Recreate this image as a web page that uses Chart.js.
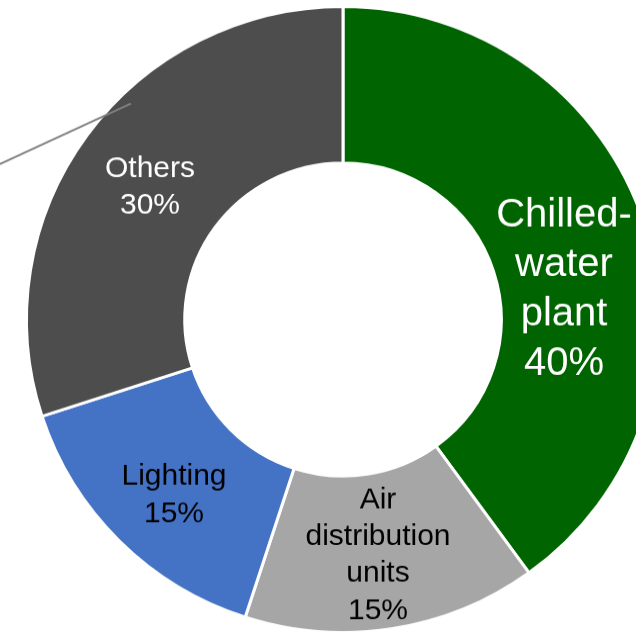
<!DOCTYPE html>
<html>
<head>
<meta charset="utf-8">
<script src="https://cdn.jsdelivr.net/npm/chart.js@4.4.1/dist/chart.umd.min.js"></script>
<style>
  html, body { margin: 0; padding: 0; background: #fff; overflow: hidden; }
  body { width: 636px; height: 636px; position: relative; }
  #wrap {
    position: absolute; left: -25px; top: 5px;
    width: 686px; height: 636px;
    transform: scaleY(0.989); transform-origin: 0 0;
  }
</style>
</head>
<body>
<div id="wrap"><canvas id="energyChart" width="686" height="636"></canvas></div>
<script>
// Share of energy use by system
const categories = ["Chilled-water plant", "Air distribution units", "Lighting", "Others"];
const shares = [40, 15, 15, 30];
const sliceColors = ["#006400", "#a6a6a6", "#4472c4", "#4d4d4d"];

// how each label is wrapped inside its slice
const labelLines = [
    ["Chilled-", "water", "plant"],
    ["Air", "distribution", "units"],
    ["Lighting"],
    ["Others"]
];
const labelColors = ["#ffffff", "#000000", "#000000", "#ffffff"];
const labelSizes = [40, 30, 30, 30];
// first baseline of each label, offset from the doughnut centre (px)
const labelSpots = [[221, -92.5], [35, 188.5], [-169, 165.5], [-193, -142.5]];

const squash = 0.989; // same as the CSS scaleY on the wrapper

// draws the in-slice labels and the grey leader line
const sliceLabels = {
    id: 'sliceLabels',
    afterDatasetsDraw(chart) {
        const ctx = chart.ctx;
        const arc = chart.getDatasetMeta(0).data[0];
        const cx = arc.x, cy = arc.y, r = arc.outerRadius;

        // leader line running off the left edge into the "Others" slice
        ctx.save();
        ctx.strokeStyle = "#808080";
        ctx.lineWidth = 2;
        ctx.beginPath();
        ctx.moveTo(cx - 1.12 * r, cy - 0.48 * r);
        ctx.lineTo(cx - 0.67 * r, cy - 0.69 * r);
        ctx.stroke();
        ctx.restore();

        categories.forEach((cat, i) => {
            const size = labelSizes[i];
            const lh = size * 1.23 / squash;
            const lines = labelLines[i].concat([shares[i] + "%"]);
            const x = cx + labelSpots[i][0];
            let y = cy + labelSpots[i][1] / squash;
            ctx.save();
            ctx.fillStyle = labelColors[i];
            ctx.font = size + "px 'Liberation Sans', Arial, sans-serif";
            ctx.textAlign = "center";
            ctx.textBaseline = "alphabetic";
            lines.forEach(line => {
                ctx.fillText(line, x, y);
                y += lh;
            });
            ctx.restore();
        });
    }
};

const ctx = document.getElementById('energyChart').getContext('2d');
new Chart(ctx, {
    type: 'doughnut',
    data: {
        labels: categories,
        datasets: [{
            data: shares,
            backgroundColor: sliceColors,
            borderColor: "#ffffff",
            borderWidth: 3
        }]
    },
    options: {
        responsive: false,
        animation: false,
        cutout: '50%',
        layout: { padding: { left: 50, right: 0, top: 0, bottom: 0 } },
        plugins: {
            legend: { display: false },
            tooltip: { enabled: false }
        }
    },
    plugins: [sliceLabels]
});
</script>
</body>
</html>
